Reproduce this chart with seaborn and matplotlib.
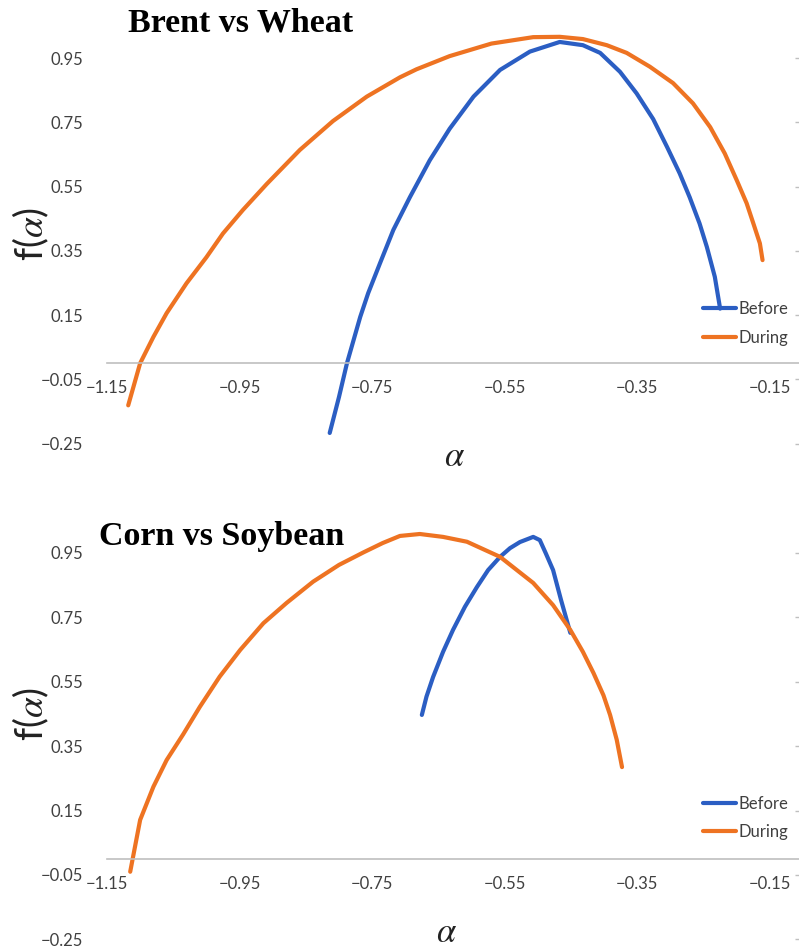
import matplotlib
matplotlib.use("Agg")
import matplotlib.pyplot as plt
import seaborn as sns
import pandas as pd

# ---------------- data ----------------
xticks = [-1.15, -0.95, -0.75, -0.55, -0.35, -0.15]
xtick_labels = ["\u22121.15", "\u22120.95", "\u22120.75", "\u22120.55", "\u22120.35", "\u22120.15"]
yticks = [-0.25, -0.05, 0.15, 0.35, 0.55, 0.75, 0.95]
ytick_labels = ["\u22120.25", "\u22120.05", "0.15", "0.35", "0.55", "0.75", "0.95"]
series_names = ["Before", "During"]

titles = ["Brent vs Wheat", "Corn vs Soybean"]

bw_before_alpha = [-0.814, -0.80, -0.788, -0.778, -0.768, -0.756, -0.738, -0.718, -0.693,
                   -0.663, -0.633, -0.597, -0.557, -0.512, -0.467, -0.432, -0.406, -0.376,
                   -0.351, -0.326, -0.305, -0.286, -0.271, -0.256, -0.245, -0.233, -0.225]
bw_before_f = [-0.217, -0.105, 0.0, 0.072, 0.144, 0.218, 0.312, 0.415, 0.517,
               0.632, 0.730, 0.830, 0.913, 0.970, 1.0, 0.990, 0.966, 0.907,
               0.840, 0.760, 0.673, 0.591, 0.517, 0.435, 0.362, 0.269, 0.17]

bw_during_alpha = [-1.118, -1.10, -1.08, -1.06, -1.03, -1.0, -0.975, -0.945, -0.909,
                   -0.859, -0.809, -0.758, -0.708, -0.683, -0.633, -0.57, -0.507, -0.467,
                   -0.432, -0.396, -0.366, -0.331, -0.296, -0.266, -0.240, -0.218, -0.200,
                   -0.185, -0.175, -0.165, -0.161]
bw_during_f = [-0.131, 0.0, 0.082, 0.156, 0.249, 0.33, 0.404, 0.477, 0.558,
               0.664, 0.754, 0.830, 0.890, 0.915, 0.956, 0.995, 1.015, 1.016,
               1.009, 0.99, 0.966, 0.923, 0.872, 0.809, 0.735, 0.653, 0.570,
               0.498, 0.436, 0.373, 0.321]

cs_before_alpha = [-0.675, -0.668, -0.658, -0.643, -0.628, -0.610, -0.592, -0.575, -0.557,
                   -0.542, -0.527, -0.507, -0.497, -0.488, -0.477, -0.465, -0.451]
cs_before_f = [0.447, 0.504, 0.565, 0.643, 0.711, 0.783, 0.844, 0.897, 0.938,
               0.965, 0.984, 1.0, 0.99, 0.949, 0.897, 0.804, 0.702]

cs_during_alpha = [-1.115, -1.10, -1.08, -1.06, -1.035, -1.01, -0.98, -0.949, -0.914,
                   -0.879, -0.839, -0.80, -0.763, -0.734, -0.708, -0.678, -0.643, -0.607,
                   -0.557, -0.507, -0.477, -0.451, -0.432, -0.416, -0.401, -0.391, -0.381,
                   -0.373]
cs_during_f = [-0.04, 0.121, 0.224, 0.307, 0.387, 0.472, 0.566, 0.649, 0.732,
               0.795, 0.861, 0.913, 0.952, 0.981, 1.003, 1.009, 1.0, 0.985,
               0.938, 0.857, 0.788, 0.711, 0.643, 0.577, 0.508, 0.447, 0.370,
               0.285]

# ---------------- style ----------------
sns.set_style("white")
plt.rcParams["font.family"] = ["Lato", "DejaVu Sans"]
plt.rcParams["mathtext.fontset"] = "stix"

palette = {"Before": "#2B5EC3", "During": "#EE7322"}
AXIS_GRAY = "#BFBFBF"
TEXT_GRAY = "#404040"

W, H = 799, 950
fig = plt.figure(figsize=(W / 100, H / 100), dpi=100)


def make_df(ba, bf, da, df_):
    return pd.DataFrame({
        "alpha": ba + da,
        "f": bf + df_,
        "period": ["Before"] * len(ba) + ["During"] * len(da),
    })


panels = [
    dict(df=make_df(bw_before_alpha, bw_before_f, bw_during_alpha, bw_during_f),
         top=25.9, bottom=450.0, title_xy=(241, 31), xlab_xy=(455, 466),
         ylab_xy=(31, 234), leg_y=323.5),
    dict(df=make_df(cs_before_alpha, cs_before_f, cs_during_alpha, cs_during_f),
         top=520.8, bottom=945.8, title_xy=(222, 545), xlab_xy=(447, 942),
         ylab_xy=(31, 714), leg_y=818.0),
]

for i, p in enumerate(panels):
    ax = fig.add_axes([107 / W, 1 - p["bottom"] / H, (W - 107) / W, (p["bottom"] - p["top"]) / H])
    sns.lineplot(data=p["df"], x="alpha", y="f", hue="period", hue_order=series_names,
                 palette=palette, sort=False, estimator=None, linewidth=3.0, ax=ax)
    for ln in ax.get_lines():
        ln.set_solid_joinstyle("round")
        ln.set_solid_capstyle("round")
    ax.set_xlim(-1.15, -0.106)
    ax.set_ylim(-0.27, 1.05)
    ax.set_xticks(xticks)
    ax.set_xticklabels(xtick_labels)
    ax.set_yticks(yticks)
    ax.set_yticklabels(ytick_labels)
    ax.set_xlabel("")
    ax.set_ylabel("")
    for s in ["left", "top", "right"]:
        ax.spines[s].set_visible(False)
    ax.spines["bottom"].set_position(("data", 0))
    ax.spines["bottom"].set_color(AXIS_GRAY)
    ax.spines["bottom"].set_linewidth(1.2)
    ax.tick_params(axis="x", direction="out", length=4, width=1, color=AXIS_GRAY,
                   labelcolor=TEXT_GRAY, labelsize=12, pad=8)
    ax.tick_params(axis="y", left=False, right=True, labelleft=True, labelright=False,
                   direction="in", length=3, width=1, color=AXIS_GRAY,
                   labelcolor=TEXT_GRAY, labelsize=12, pad=17)
    leg = ax.legend(loc="center left", bbox_to_anchor=(703 / W, 1 - p["leg_y"] / H),
                    bbox_transform=fig.transFigure, frameon=False, fontsize=12,
                    handlelength=2.0, handletextpad=0.12, labelspacing=0.75,
                    borderpad=0, borderaxespad=0)
    for t in leg.get_texts():
        t.set_color(TEXT_GRAY)
    for ln in leg.get_lines():
        ln.set_linewidth(3.0)

    tx, ty = p["title_xy"]
    fig.text(tx / W, 1 - ty / H, titles[i], ha="center", va="baseline",
             fontfamily="Liberation Serif", fontweight="bold", fontsize=24.5, color="black")
    xx, xy = p["xlab_xy"]
    fig.text(xx / W, 1 - xy / H, r"$\alpha$", ha="center", va="baseline",
             fontsize=25, color="#222222")
    yx, yy = p["ylab_xy"]
    fig.text(yx / W, 1 - yy / H, r"f($\alpha$)", ha="center", va="center", rotation=90,
             fontsize=27, color="#222222")

fig.savefig("out.png", dpi=100)
